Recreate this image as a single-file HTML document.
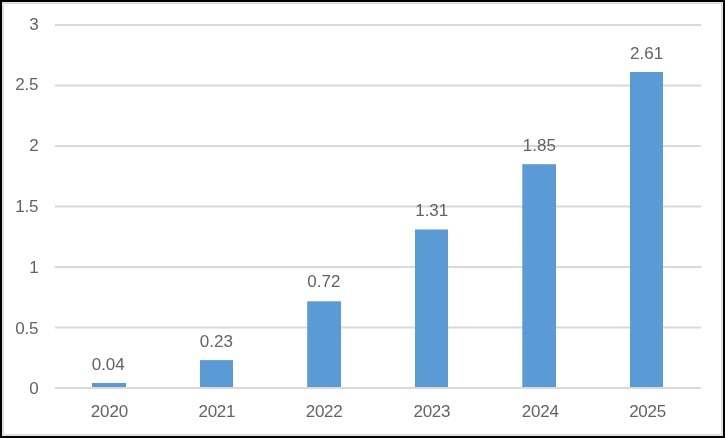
<!DOCTYPE html>
<html><head><meta charset="utf-8"><title>Chart</title>
<style>
html,body{margin:0;padding:0;background:#fff;}
body{width:725px;height:438px;position:relative;overflow:hidden;font-family:"Liberation Sans",sans-serif;}
</style></head><body>
<svg width="725" height="438" viewBox="0 0 725 438" style="position:absolute;left:0;top:0;display:block;will-change:transform;opacity:0.9999">
<rect x="0" y="0" width="725" height="438" fill="#000"/>
<rect x="2" y="2" width="721" height="434" fill="#e2e2e2"/>
<rect x="3" y="3" width="719" height="432" fill="#dadada"/>
<rect x="4" y="4" width="717" height="430" fill="#fff"/>
<rect x="55" y="387.00" width="646" height="2" fill="#d9d9d9"/>
<rect x="55" y="326.50" width="646" height="2" fill="#d9d9d9"/>
<rect x="55" y="266.00" width="646" height="2" fill="#d9d9d9"/>
<rect x="55" y="205.50" width="646" height="2" fill="#d9d9d9"/>
<rect x="55" y="145.00" width="646" height="2" fill="#d9d9d9"/>
<rect x="55" y="84.50" width="646" height="2" fill="#d9d9d9"/>
<rect x="55" y="24.00" width="646" height="2" fill="#d9d9d9"/>
<rect x="92" y="383.0" width="34.00" height="4.00" fill="#5b9bd5"/>
<rect x="200" y="360.1" width="33.00" height="26.90" fill="#5b9bd5"/>
<rect x="307.2" y="301.3" width="33.80" height="85.70" fill="#5b9bd5"/>
<rect x="415" y="229.5" width="33.00" height="157.50" fill="#5b9bd5"/>
<rect x="522.3" y="164.2" width="33.70" height="222.80" fill="#5b9bd5"/>
<rect x="630" y="72.0" width="33.00" height="315.00" fill="#5b9bd5"/>
<g font-family="'Liberation Sans', sans-serif" font-size="17" fill="#636363">
<text x="38.80" y="394" text-anchor="end" letter-spacing="0">0</text>
<text x="38.25" y="334" text-anchor="end" letter-spacing="-0.25">0.5</text>
<text x="38.60" y="273" text-anchor="end" letter-spacing="0">1</text>
<text x="38.25" y="212" text-anchor="end" letter-spacing="-0.25">1.5</text>
<text x="38.60" y="151" text-anchor="end" letter-spacing="0">2</text>
<text x="38.25" y="90" text-anchor="end" letter-spacing="-0.25">2.5</text>
<text x="38.60" y="30" text-anchor="end" letter-spacing="0">3</text>
<text x="109.43" y="417" text-anchor="middle" letter-spacing="-0.1">2020</text>
<text x="108.23" y="370" text-anchor="middle">0.04</text>
<text x="216.80" y="417" text-anchor="middle" letter-spacing="-0.3">2021</text>
<text x="216.30" y="347" text-anchor="middle">0.23</text>
<text x="324.07" y="417" text-anchor="middle" letter-spacing="-0.3">2022</text>
<text x="323.87" y="287" text-anchor="middle">0.72</text>
<text x="431.83" y="417" text-anchor="middle" letter-spacing="-0.3">2023</text>
<text x="431.73" y="216" text-anchor="middle">1.31</text>
<text x="540.30" y="417" text-anchor="middle" letter-spacing="-0.2">2024</text>
<text x="539.30" y="151" text-anchor="middle">1.85</text>
<text x="647.57" y="417" text-anchor="middle" letter-spacing="-0.25">2025</text>
<text x="646.67" y="59" text-anchor="middle">2.61</text>
</g></svg>
</body></html>
